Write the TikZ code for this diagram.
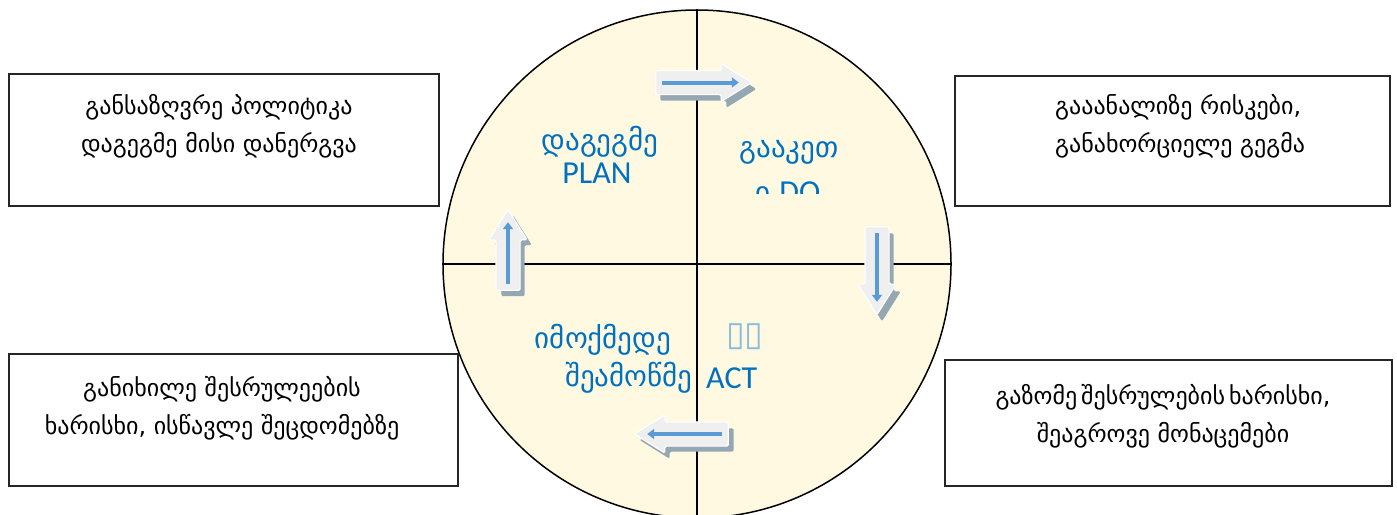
\documentclass[tikz,border=0pt]{standalone}
\usepackage{fontspec}
\setmainfont{DejaVu Sans}
\newfontfamily\latinfont{Carlito}
\usepackage{tikz}
\usetikzlibrary{shapes,arrows.meta,positioning,calc}

\definecolor{wheelfill}{HTML}{FEF9E0}
\definecolor{stepblue}{HTML}{0070C0}
\definecolor{flowblue}{HTML}{5B9BD5}
\definecolor{flowgray}{HTML}{EFEFEF}
\definecolor{shadowgray}{HTML}{95A7B2}

\begin{document}
\begin{tikzpicture}[
    x=1pt, y=-1pt,
    box/.style={rectangle, draw=black!85, line width=1.5pt, inner sep=0pt},
    boxtext/.style={align=center, font=\fontsize{24}{38}\selectfont, inner sep=0pt},
    stepgeo/.style={text=stepblue, font=\fontsize{29}{34}\selectfont, inner sep=0pt},
    steplatin/.style={text=stepblue, font=\latinfont\fontsize{32}{36}\selectfont, inner sep=0pt},
    flow/.style={single arrow, inner xsep=0pt, inner ysep=11.5pt, single arrow head extend=7pt,
        single arrow tip angle=64, rounded corners=1.5pt},
    flowbody/.style={flow, fill=flowgray, draw=white, line width=1.2pt},
    flowshadow/.style={flow, fill=shadowgray},
    flowline/.style={flowblue, line width=4pt, -{Triangle[width=10pt,length=7pt]}}
]
\useasboundingbox (0,0) rectangle (1397,514);

% the wheel
\node[circle, draw, line width=1.5pt, fill=wheelfill, minimum size=508pt, inner sep=0pt] (wheel) at (697,264) {};
\draw[line width=1.5pt] (wheel.north) -- (wheel.south);
\draw[line width=1.5pt] (wheel.west) -- (wheel.east);

% side boxes
\node[box, minimum width=430pt, minimum height=132pt] (planbox) at (224,140) {};
\node[boxtext] (plantext) at (219,126) {განსაზღვრე პოლიტიკა\\დაგეგმე მისი დანერგვა};
\node[box, minimum width=435pt, minimum height=130pt] (dobox) at (1172.5,141) {};
\node[boxtext, align=left, anchor=west] (dotext) at (1055,126.5) {გააანალიზე რისკები,\\განახორციელე გეგმა};
\node[box, minimum width=449pt, minimum height=132pt] (actbox) at (233.5,420) {};
\node[boxtext] (acttext) at (222,408) {განიხილე შესრულეების\\ხარისხი, ისწავლე შეცდომებზე};
\node[box, minimum width=447pt, minimum height=126pt] (checkbox) at (1168.5,423) {};
\node[boxtext] (checktext) at (1163,416) {გაზომე\,შესრულების\,ხარისხი,\\შეაგროვე მონაცემები};

% quarter labels
\node[stepgeo] (plangeo) at (600,142) {დაგეგმე};
\node[steplatin] (planlatin) at (597,173) {PLAN};
\node[stepgeo] (dogeo) at (789,152) {გააკეთ};
\begin{scope}
\clip (700,100) rectangle (900,193);
\node[stepgeo, anchor=west] (dolatin) at (755,192) {ი {\latinfont\fontsize{32}{36}\selectfont DO}};
\end{scope}
\node[stepgeo] (actgeo) at (603,340) {იმოქმედე};
\node[stepgeo, anchor=west] (checkgeo) at (565,378) {შეამოწმე};
\node[steplatin, anchor=west] (actlatin) at (706,378) {ACT};
\node[text=flowblue!70, font=\fontsize{34}{38}\selectfont, inner sep=0pt] (missing) at (745,337) {▯▯};

% arrows between the quarters
\node[flowshadow, minimum height=96pt] (rightshadow) at (699,89) {};
\node[flowbody, minimum height=96pt] (rightarrow) at (694,82.5) {};
\draw[flowline] ($(rightarrow.tail)!7pt!(rightarrow.tip)$) -- ($(rightarrow.tip)!14pt!(rightarrow.tail)$);

\node[flowshadow, minimum height=88pt, rotate=-90] (downshadow) at (882,268) {};
\node[flowbody, minimum height=88pt, rotate=-90] (downarrow) at (877,261) {};
\draw[flowline] ($(downarrow.tail)!7pt!(downarrow.tip)$) -- ($(downarrow.tip)!14pt!(downarrow.tail)$);

\node[flowshadow, minimum height=94pt, rotate=180] (leftshadow) at (696,440) {};
\node[flowbody, minimum height=94pt, rotate=180] (leftarrow) at (691,434) {};
\draw[flowline] ($(leftarrow.tail)!7pt!(leftarrow.tip)$) -- ($(leftarrow.tip)!14pt!(leftarrow.tail)$);

\node[flowshadow, minimum height=81pt, rotate=90] (upshadow) at (513,265) {};
\node[flowbody, minimum height=81pt, rotate=90] (uparrow) at (508,259.5) {};
\draw[flowline] ($(uparrow.tail)!7pt!(uparrow.tip)$) -- ($(uparrow.tip)!14pt!(uparrow.tail)$);
\end{tikzpicture}
\end{document}
